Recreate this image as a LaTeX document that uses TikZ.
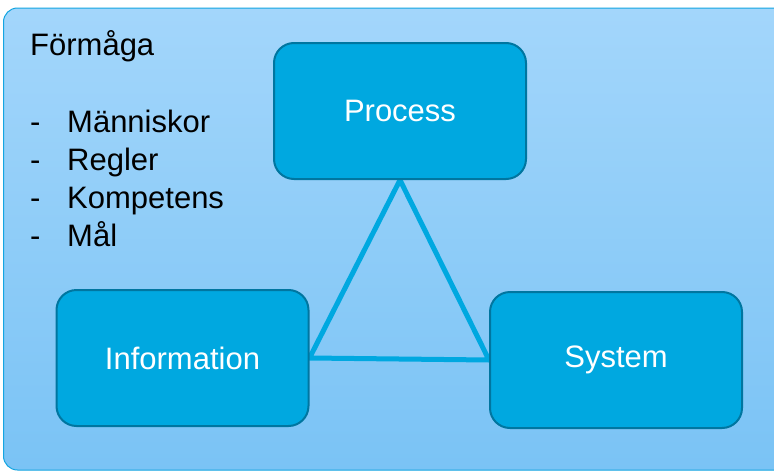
\documentclass[tikz,border=0pt]{standalone}
\usepackage{fontspec}
\setmainfont{Liberation Sans}
\usepackage{tikz}
\usetikzlibrary{backgrounds}

\definecolor{panetop}{RGB}{163,214,251}
\definecolor{panebot}{RGB}{122,195,245}
\definecolor{paneline}{RGB}{20,165,225}
\definecolor{boxfill}{RGB}{0,168,224}
\definecolor{boxline}{RGB}{0,118,160}
\definecolor{linkcol}{RGB}{0,168,224}

\pgfdeclarelayer{pane}
\pgfsetlayers{pane,background,main}

\begin{document}
\begin{tikzpicture}[x=1pt,y=-1pt,
        box/.style = {draw=boxline, line width=2pt, fill=boxfill, rounded corners=20pt, minimum width=252pt, minimum height=136pt, text=white, font=\fontsize{31}{38}\selectfont},
        link/.style = {draw=linkcol, line width=5pt, line join=round},
        txt/.style = {anchor=base west, inner sep=0pt, font=\fontsize{31}{38}\selectfont}]
        \useasboundingbox (0,0) rectangle (774,471);
        \clip (0,0) rectangle (774,471);
        % pane behind everything
        \begin{pgfonlayer}{pane}
        \draw[paneline, line width=1pt, top color=panetop, bottom color=panebot, rounded corners=14pt] (3.5,8) rectangle (800,470);
        \end{pgfonlayer}
        \node[txt] (title) at (30,55) {Förmåga};
        \node[txt] (d1) at (30,132) {-};
        \node[txt] (m1) at (67,132) {Människor};
        \node[txt] (d2) at (30,170) {-};
        \node[txt] (m2) at (67,170) {Regler};
        \node[txt] (d3) at (30,208) {-};
        \node[txt] (m3) at (67,208) {Kompetens};
        \node[txt] (d4) at (30,246) {-};
        \node[txt] (m4) at (67,246) {Mål};
        \node[box] (proc) at (400,111) {Process};
        \node[box] (info) at (182.5,358) {Information};
        \node[box] (sys) at (616,360) {System};
        \begin{scope}[on background layer]
        \draw[link] (proc.south) -- (info.east) -- (sys.west) -- cycle;
        \end{scope}
\end{tikzpicture}
\end{document}
